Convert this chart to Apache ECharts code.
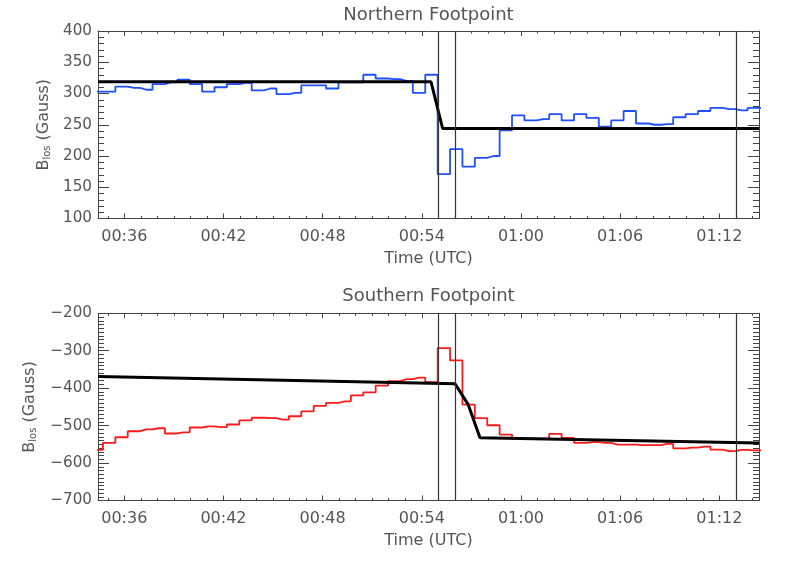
<!DOCTYPE html>
<html>
<head>
<meta charset="utf-8">
<script src="https://cdn.jsdelivr.net/npm/echarts@6/dist/echarts.min.js"></script>
<style>html,body{margin:0;padding:0;background:#fff}#c{width:789px;height:564px}</style>
</head>
<body>
<div id="c"></div>
<script>
// ---- data (times UTC, 45 s cadence bins) ----
const sampleTimes = ["00:34:20","00:35:05","00:35:50","00:36:35","00:37:20","00:38:05","00:38:50","00:39:35","00:40:20","00:41:05","00:41:50","00:42:35","00:43:20","00:44:05","00:44:50","00:45:35","00:46:20","00:47:05","00:47:50","00:48:35","00:49:20","00:50:05","00:50:50","00:51:35","00:52:20","00:53:05","00:53:50","00:54:35","00:55:20","00:56:05","00:56:50","00:57:35","00:58:20","00:59:05","00:59:50","01:00:35","01:01:20","01:02:05","01:02:50","01:03:35","01:04:20","01:05:05","01:05:50","01:06:35","01:07:20","01:08:05","01:08:50","01:09:35","01:10:20","01:11:05","01:11:50","01:12:35","01:13:20","01:14:05","01:14:50"];
const northBlos = [303,303,311,309,306,315,318,322,315,303,310,315,317,305,308,299,301,313,313,308,318,318,330,324,323,320,301,330,171,211,183,197,200,241,265,257,259,267,257,267,261,247,257,272,252,250,251,262,267,272,277,275,273,277,277];
const southBlos = [-565,-546,-531,-515,-510,-507,-521,-518,-505,-502,-504,-497,-486,-479,-480,-484,-475,-462,-447,-439,-435,-419,-411,-393,-381,-376,-372,-384,-293,-326,-444,-480,-499,-524,-535,-535,-535,-522,-533,-546,-544,-546,-551,-551,-552,-552,-549,-561,-559,-556,-564,-568,-565,-566,-566];
// piecewise fits: [minutes after 00:00, Blos]
const northFit = [[34.41,319],[54.555,319],[55.26,244],[74.40,244]];
const southFit = [[34.41,-368.5],[56.01,-388],[56.81,-444],[57.52,-532.5],[74.40,-546.7]];
// event markers (minutes after 00:00)
const eventTimes = [55.0, 56.0, 73.0];
// axes
const timeRange = [34.41, 74.40];
const majorTimeTicks = [36,42,48,54,60,66,72];
const minorTimeTicks = [35,36,37,38,39,40,41,42,43,44,45,46,47,48,49,50,51,52,53,54,55,56,57,58,59,60,61,62,63,64,65,66,67,68,69,70,71,72,73,74];
const northRange = [100, 400, 50];
const southRange = [-700, -200, 100];

function toMin(s){const p=s.split(':').map(Number);return p[0]*60+p[1]+p[2]/60;}
const tMin = sampleTimes.map(toMin);
const northData = tMin.map((t,i)=>[t,northBlos[i]]);
const southData = tMin.map((t,i)=>[t,southBlos[i]]);

const FONT = 'DejaVu Sans';
const TXT = '#555';
const AX = '#444';
function fmtTime(v){const h=Math.floor(v/60+1e-9);const m=Math.round(v-h*60);return String(h).padStart(2,'0')+':'+String(m).padStart(2,'0');}
function fmtY(v){return v<0?'\u2212'+Math.abs(v):String(v);}

const G = [{left:98,top:31,width:661,height:187.5},{left:98,top:313.3,width:661,height:187.2}];

function xAxesFor(g){
  const base = {gridIndex:g,type:'value',min:timeRange[0],max:timeRange[1],splitLine:{show:false}};
  return [
    Object.assign({},base,{position:'bottom',
      axisLine:{show:true,onZero:false,lineStyle:{color:AX,width:1}},
      axisTick:{show:true,inside:true,length:5,customValues:majorTimeTicks,lineStyle:{color:AX}},
      axisLabel:{show:true,customValues:majorTimeTicks,formatter:fmtTime,margin:10,fontFamily:FONT,fontSize:16,color:TXT},
      name:'Time (UTC)',nameLocation:'middle',nameGap:32,nameTextStyle:{fontFamily:FONT,fontSize:16,color:TXT}}),
    Object.assign({},base,{position:'bottom',
      axisLine:{show:false,onZero:false},
      axisTick:{show:true,inside:true,length:2.5,customValues:minorTimeTicks,lineStyle:{color:AX}},
      axisLabel:{show:false}}),
    Object.assign({},base,{position:'top',
      axisLine:{show:true,onZero:false,lineStyle:{color:AX,width:1}},
      axisTick:{show:true,inside:true,length:5,customValues:majorTimeTicks,lineStyle:{color:AX}},
      axisLabel:{show:false}}),
    Object.assign({},base,{position:'top',
      axisLine:{show:false,onZero:false},
      axisTick:{show:true,inside:true,length:2.5,customValues:minorTimeTicks,lineStyle:{color:AX}},
      axisLabel:{show:false}})
  ];
}
function yAxesFor(g,r,minorSplit,nameGap){
  const base = {gridIndex:g,type:'value',min:r[0],max:r[1],interval:r[2],splitLine:{show:false},
    axisLine:{show:true,onZero:false,lineStyle:{color:AX,width:1}},
    axisTick:{show:true,inside:true,length:11,lineStyle:{color:AX}},
    minorTick:{show:true,splitNumber:minorSplit,length:6,lineStyle:{color:AX}},
    minorSplitLine:{show:false}};
  return [
    Object.assign({},base,{position:'left',
      axisLabel:{show:true,formatter:fmtY,margin:6,fontFamily:FONT,fontSize:15.2,color:TXT},
      name:'B{s|los} (Gauss)',nameLocation:'middle',nameRotate:90,nameGap:nameGap,
      nameTextStyle:{fontFamily:FONT,fontSize:16,color:TXT,rich:{s:{fontFamily:FONT,fontSize:10,color:TXT,padding:[7,0,0,0]}}}}),
    Object.assign({},base,{position:'right',axisLabel:{show:false}})
  ];
}

const xAxes = xAxesFor(0).concat(xAxesFor(1));
const yAxes = yAxesFor(0,northRange,5,46).concat(yAxesFor(1,southRange,10,60));

function vlines(){
  return {silent:true,symbol:['none','none'],label:{show:false},
    lineStyle:{color:'#333',width:1.2,type:'solid'},emphasis:{disabled:true},
    data:eventTimes.map(t=>({xAxis:t}))};
}

const option = {
  animation:false,
  backgroundColor:'#fff',
  grid:G,
  xAxis:xAxes,
  yAxis:yAxes,
  graphic:[
    {type:'text',x:428.5,y:6,style:{text:'Northern Footpoint',fontFamily:FONT,fontSize:18,fill:TXT,textAlign:'center',textVerticalAlign:'top'}},
    {type:'text',x:428.5,y:287,style:{text:'Southern Footpoint',fontFamily:FONT,fontSize:18,fill:TXT,textAlign:'center',textVerticalAlign:'top'}}
  ],
  series:[
    {type:'line',xAxisIndex:0,yAxisIndex:0,data:[],markLine:vlines(),z:1},
    {type:'line',xAxisIndex:0,yAxisIndex:0,data:northData,step:'middle',showSymbol:false,symbol:'none',
      lineStyle:{color:'#1f4fff',width:1.8},clip:true,z:2},
    {type:'line',xAxisIndex:0,yAxisIndex:0,data:northFit,showSymbol:false,symbol:'none',
      lineStyle:{color:'#000',width:3},clip:true,z:3},
    {type:'line',xAxisIndex:4,yAxisIndex:2,data:[],markLine:vlines(),z:1},
    {type:'line',xAxisIndex:4,yAxisIndex:2,data:southData,step:'middle',showSymbol:false,symbol:'none',
      lineStyle:{color:'#ff1a1a',width:1.8},clip:true,z:2},
    {type:'line',xAxisIndex:4,yAxisIndex:2,data:southFit,showSymbol:false,symbol:'none',
      lineStyle:{color:'#000',width:3},clip:true,z:3}
  ]
};
const chart = echarts.init(document.getElementById('c'),null,{renderer:'canvas'});
chart.setOption(option);
</script>
</body>
</html>
